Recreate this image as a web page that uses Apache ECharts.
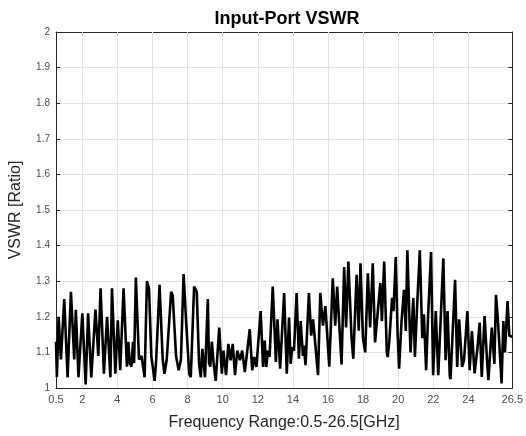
<!DOCTYPE html>
<html><head><meta charset="utf-8">
<script src="https://cdn.jsdelivr.net/npm/echarts@6/dist/echarts.min.js"></script>
<style>html,body{margin:0;padding:0;background:#fff}#c{width:526px;height:436px}</style>
</head><body><div id="c"></div>
<script>
const freq = [0.5,0.55,0.65,0.78,0.97,1.16,1.35,1.54,1.63,1.78,2.0,2.19,2.33,2.51,2.75,2.91,3.04,3.23,3.41,3.60,3.69,3.88,4.02,4.16,4.35,4.54,4.62,4.70,4.80,4.89,4.95,5.05,5.23,5.37,5.46,5.55,5.68,5.80,5.93,6.12,6.21,6.40,6.58,6.68,6.81,7.06,7.15,7.34,7.49,7.62,7.77,7.90,8.09,8.18,8.37,8.52,8.65,8.75,8.84,8.99,9.15,9.22,9.29,9.38,9.48,9.60,9.80,9.95,10.04,10.19,10.32,10.45,10.57,10.70,10.83,10.98,11.11,11.26,11.40,11.54,11.68,11.79,11.92,12.16,12.30,12.39,12.48,12.58,12.67,12.85,13.03,13.12,13.27,13.50,13.65,13.78,13.87,13.96,14.06,14.21,14.34,14.44,14.57,14.62,14.72,14.91,15.04,15.15,15.24,15.43,15.56,15.71,15.85,16.07,16.27,16.41,16.52,16.77,16.92,17.03,17.16,17.34,17.44,17.63,17.75,17.85,17.99,18.12,18.27,18.40,18.55,18.68,18.79,18.98,19.07,19.20,19.35,19.40,19.49,19.65,19.73,19.86,19.96,20.05,20.19,20.33,20.43,20.52,20.70,20.86,20.95,21.09,21.23,21.37,21.46,21.59,21.70,21.87,21.99,22.14,22.28,22.38,22.57,22.70,22.81,22.94,22.98,23.24,23.36,23.47,23.64,23.75,23.94,24.07,24.20,24.35,24.50,24.64,24.76,24.92,25.06,25.14,25.33,25.48,25.57,25.67,25.76,25.89,25.99,26.08,26.23,26.33,26.5];
const vswr = [1.13,1.03,1.20,1.08,1.25,1.03,1.27,1.08,1.22,1.03,1.21,1.01,1.21,1.03,1.22,1.09,1.28,1.04,1.20,1.03,1.28,1.04,1.19,1.05,1.28,1.06,1.13,1.07,1.06,1.13,1.07,1.31,1.08,1.09,1.06,1.03,1.30,1.28,1.09,1.02,1.08,1.29,1.08,1.04,1.08,1.27,1.26,1.09,1.05,1.08,1.32,1.20,1.04,1.03,1.285,1.27,1.07,1.03,1.11,1.03,1.25,1.07,1.06,1.13,1.07,1.02,1.17,1.04,1.105,1.036,1.124,1.078,1.124,1.036,1.105,1.078,1.105,1.045,1.105,1.165,1.05,1.087,1.059,1.216,1.059,1.133,1.059,1.105,1.087,1.285,1.073,1.193,1.054,1.267,1.04,1.198,1.068,1.114,1.105,1.267,1.082,1.188,1.09,1.119,1.064,1.267,1.147,1.193,1.188,1.036,1.267,1.175,1.23,1.06,1.308,1.175,1.285,1.066,1.34,1.17,1.355,1.142,1.082,1.318,1.161,1.35,1.14,1.10,1.322,1.17,1.35,1.128,1.128,1.295,1.188,1.355,1.10,1.087,1.13,1.253,1.216,1.368,1.16,1.054,1.188,1.276,1.16,1.387,1.10,1.253,1.087,1.244,1.387,1.14,1.207,1.05,1.20,1.382,1.036,1.216,1.036,1.031,1.364,1.078,1.216,1.031,1.025,1.304,1.059,1.193,1.059,1.078,1.216,1.05,1.16,1.041,1.105,1.184,1.031,1.202,1.078,1.022,1.17,1.068,1.262,1.198,1.124,1.013,1.188,1.10,1.244,1.147,1.144];
const xTicks = [0.5,2,4,6,8,10,12,14,16,18,20,22,24,26.5];
const xGrid = [2,4,6,8,10,12,14,16,18,20,22,24];
const titleText = 'Input-Port VSWR';
const xName = 'Frequency Range:0.5-26.5[GHz]';
const yName = 'VSWR [Ratio]';

const chart = echarts.init(document.getElementById('c'), null, {renderer:'canvas'});
const F = 'Liberation Sans, Arial, Helvetica, sans-serif';
const axisCol = '#262626';
const data = freq.map((f,i)=>[f, vswr[i]]);
const tickStyle = {show:true, inside:true, length:4, lineStyle:{color:axisCol, width:1}};
chart.setOption({
  animation:false,
  backgroundColor:'#fff',
  title:{text:titleText, left:282, top:5, textAlign:'center',
    textStyle:{fontFamily:F, fontSize:18, fontWeight:'bold', color:'#000'}},
  grid:{left:53, right:12, top:32, bottom:43, containLabel:false},
  xAxis:[{
    type:'value', min:0.5, max:26.5, position:'bottom',
    name:xName, nameLocation:'middle', nameGap:27,
    nameTextStyle:{fontFamily:F, fontSize:16, color:axisCol},
    axisLine:{show:true, onZero:false, lineStyle:{color:axisCol, width:1}},
    axisTick:Object.assign({customValues:xTicks}, tickStyle),
    axisLabel:{customValues:xTicks, fontFamily:F, fontSize:11, color:'#4d4d4d', margin:6, hideOverlap:false},
    splitLine:{show:false}
  },{
    type:'value', min:0.5, max:26.5, position:'top',
    axisLine:{show:true, onZero:false, lineStyle:{color:axisCol, width:1}},
    axisTick:Object.assign({customValues:xTicks}, tickStyle),
    axisLabel:{show:false}, splitLine:{show:false}
  }],
  yAxis:[{
    type:'value', min:1, max:2, interval:0.1, position:'left',
    name:yName, nameLocation:'middle', nameGap:32,
    nameTextStyle:{fontFamily:F, fontSize:16, color:axisCol},
    axisLine:{show:true, onZero:false, lineStyle:{color:axisCol, width:1}},
    axisTick:tickStyle,
    axisLabel:{fontFamily:F, fontSize:10, color:'#4d4d4d', margin:6,
      formatter:v=>String(Math.round(v*10)/10)},
    splitLine:{show:true, lineStyle:{color:'#e3e3e3', width:1}}
  },{
    type:'value', min:1, max:2, interval:0.1, position:'right',
    axisLine:{show:true, onZero:false, lineStyle:{color:axisCol, width:1}},
    axisTick:tickStyle, axisLabel:{show:false}, splitLine:{show:false}
  }],
  series:[{
    type:'line', data:data, showSymbol:false, symbol:'none',
    lineStyle:{color:'#000', width:2.6}, z:5,
    markLine:{silent:true, symbol:'none', label:{show:false}, z:1,
      lineStyle:{color:'#e3e3e3', width:1, type:'solid'},
      data:xGrid.map(v=>({xAxis:v}))}
  }]
});
</script></body></html>
